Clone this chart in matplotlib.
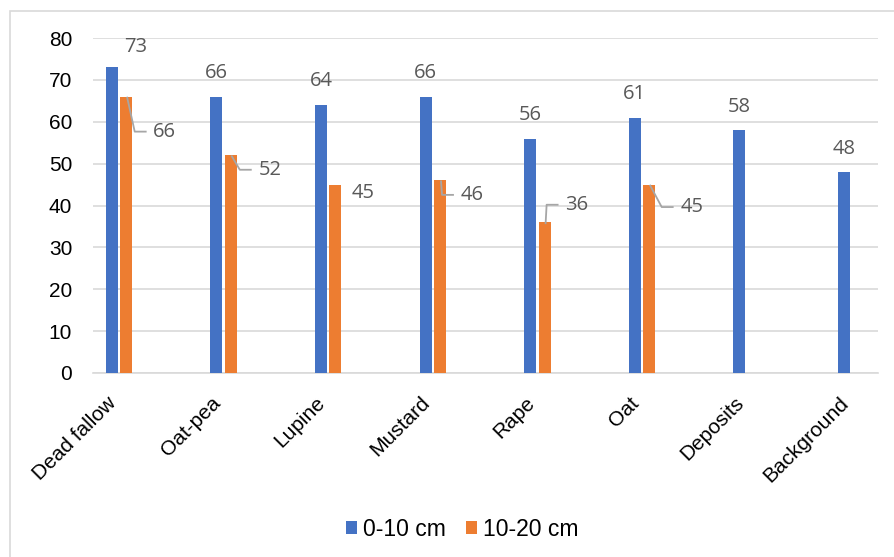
import numpy as np
import matplotlib
matplotlib.use("Agg")
import matplotlib.pyplot as plt
from matplotlib.patches import Rectangle, Patch
from matplotlib.lines import Line2D
from matplotlib.transforms import ScaledTranslation

# ---- data -------------------------------------------------------------
categories = ["Dead fallow", "Oat-pea", "Lupine", "Mustard", "Rape", "Oat",
              "Deposits", "Background"]
depth_0_10 = [73, 66, 64, 66, 56, 61, 58, 48]
depth_10_20 = [66, 52, 45, 46, 36, 45, None, None]
series_names = ["0-10 cm", "10-20 cm"]
y_ticks = [0, 10, 20, 30, 40, 50, 60, 70, 80]

# ---- style ------------------------------------------------------------
BLUE = "#4472C4"
ORANGE = "#ED7D31"
GRID = "#D9D9D9"
LABEL_GREY = "#595959"
LEADER = "#A6A6A6"
TICK_FONT = "Liberation Sans"
LABEL_FONT = "Open Sans"

W, H = 895, 557
fig = plt.figure(figsize=(W / 100, H / 100), dpi=100)
ax = fig.add_axes([93 / W, 1 - 373 / H, (878 - 93) / W, (373 - 38) / H])

x = np.arange(len(categories))
bar_w = 0.115
offset = 0.069

ax.bar(x - offset, depth_0_10, bar_w, color=BLUE, zorder=3)
idx2 = [i for i, v in enumerate(depth_10_20) if v is not None]
vals2 = [depth_10_20[i] for i in idx2]
ax.bar(np.array(idx2) + offset, vals2, bar_w, color=ORANGE, zorder=3)

ax.set_xlim(-0.2486, 7.2562)
ax.set_ylim(y_ticks[0], y_ticks[-1])
ax.set_yticks(y_ticks)
ax.set_xticks(x)
ax.set_xticklabels(categories)

for s in ("top", "left", "right"):
    ax.spines[s].set_visible(False)
ax.spines["bottom"].set_color(GRID)
ax.spines["bottom"].set_linewidth(1.2)
ax.yaxis.grid(True, color=GRID, linewidth=1.2)
ax.set_axisbelow(True)

ax.tick_params(axis="both", length=0)
ax.tick_params(axis="y", pad=15)
ax.tick_params(axis="x", pad=22.3)
for lbl in ax.get_yticklabels():
    lbl.set_fontfamily(TICK_FONT)
    lbl.set_fontsize(15)
    lbl.set_color("#000000")
shift_x = ScaledTranslation(-2 / 100, 0, fig.dpi_scale_trans)
for lbl in ax.get_xticklabels():
    lbl.set_fontfamily(TICK_FONT)
    lbl.set_fontsize(15)
    lbl.set_color("#000000")
    lbl.set_rotation(45)
    lbl.set_ha("right")
    lbl.set_va("baseline")
    lbl.set_rotation_mode("anchor")
    lbl.set_transform(lbl.get_transform() + shift_x)

# ---- data labels (offsets in pixels from the bar top) -----------------
blue_shift = [(24, 20)] + [(0, 23.5)] * 7
orange_shift = [(38.5, -35), (39, -14.5), (28, -8.5), (32, -14.5),
                (32, 17.5), (42.5, -22.5)]
orange_leader = [True, True, False, True, True, True]

lbl_kw = dict(textcoords="offset pixels", ha="center", va="center",
              fontsize=14.5, color=LABEL_GREY, family=LABEL_FONT, zorder=5)

for i, v in enumerate(depth_0_10):
    ax.annotate(f"{v}", (x[i] - offset, v), xytext=blue_shift[i], **lbl_kw)

inv = ax.transData.inverted()
for k, i in enumerate(idx2):
    v = vals2[k]
    dx, dy = orange_shift[k]
    ax.annotate(f"{v}", (x[i] + offset, v), xytext=(dx, dy), **lbl_kw)
    if orange_leader[k]:
        bx, by = ax.transData.transform((x[i] + offset, v))
        lx, ly = bx + dx, by + dy
        pts_disp = [(lx - 19, ly), (lx - 30, ly), (bx + 1, by - 1)]
        pts = inv.transform(pts_disp)
        ax.add_line(Line2D(pts[:, 0], pts[:, 1], color=LEADER, lw=1.3,
                           zorder=4, clip_on=False))

# ---- legend -------------------------------------------------------------
handles = [Patch(facecolor=BLUE), Patch(facecolor=ORANGE)]
fig.legend(handles, series_names, loc="center",
           bbox_to_anchor=(462 / W, 1 - 529 / H), ncol=2, frameon=False,
           handlelength=0.48, handleheight=0.48, handletextpad=0.26,
           columnspacing=0.87,
           prop={"family": TICK_FONT, "size": 16.5})

# ---- chart area border ------------------------------------------------
fig.add_artist(Rectangle((10 / W, -0.1), 1.2, 1.1 - 11 / H,
                         transform=fig.transFigure, fill=False,
                         edgecolor=GRID, linewidth=1.2))

fig.savefig("out.png", dpi=100)
